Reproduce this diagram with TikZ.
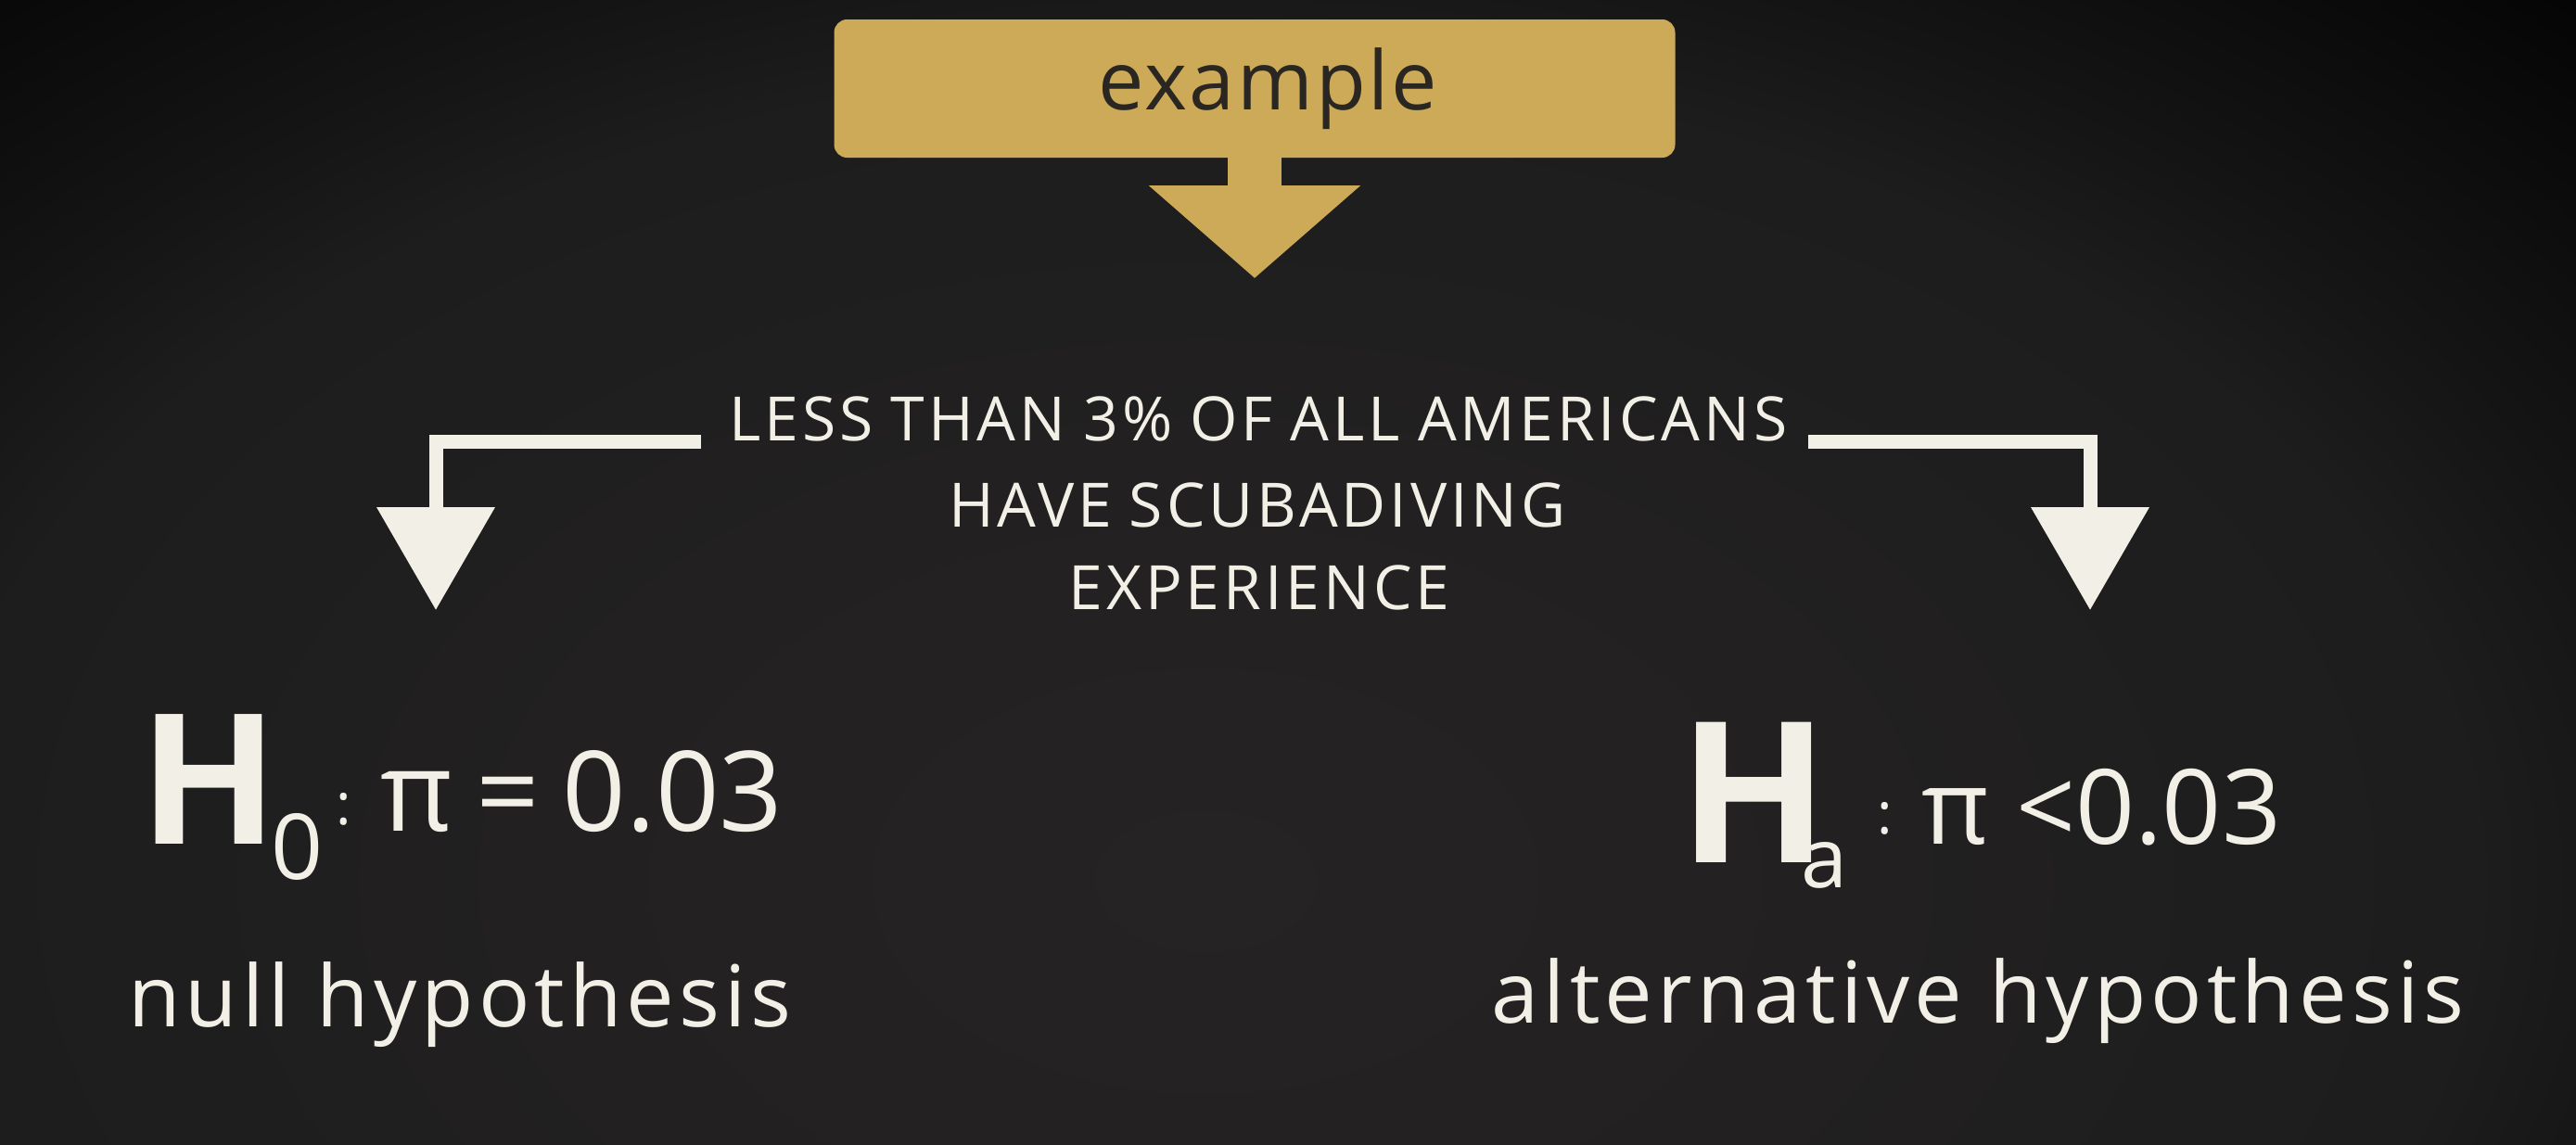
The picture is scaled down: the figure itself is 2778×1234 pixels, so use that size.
\documentclass[tikz,border=0pt]{standalone}
\usepackage{fontspec}
\setmainfont{Open Sans}
\usetikzlibrary{arrows.meta}
\definecolor{gold}{HTML}{CDAA58}
\definecolor{chalk}{HTML}{F2F0E6}
\definecolor{ink}{HTML}{2A2622}
\definecolor{bgA}{HTML}{252324}
\definecolor{bgB}{HTML}{222021}
\definecolor{bgC}{HTML}{1D1D1D}
\definecolor{bgD}{HTML}{151515}
\definecolor{bgE}{HTML}{0E0E0E}
\definecolor{bgF}{HTML}{050505}
\pgfdeclareradialshading{vignette}{\pgfpoint{0bp}{0bp}}{color(0bp)=(bgA); color(10bp)=(bgB); color(19bp)=(bgC); color(22bp)=(bgD); color(25bp)=(bgE); color(29bp)=(bgF); color(50bp)=(bgF)}
\newfontfamily\capsfont[LetterSpace=6,WordSpace=0.9]{Open Sans}
\newfontfamily\lblfont[LetterSpace=5.5]{Open Sans}
\newfontfamily\exfont[LetterSpace=3]{Open Sans}
\newfontfamily\eqfont[WordSpace=0.8]{Open Sans}
\tikzset{
  goldbox/.style={fill=gold, rounded corners=14pt, minimum width=907pt, minimum height=149pt, inner sep=0pt, text=ink, font=\exfont\fontsize{88}{100}\selectfont},
  goldarrow/.style={draw=gold, line width=58pt, -{Triangle[width=223pt,length=100pt]}},
  caps/.style={text=chalk, inner sep=0pt, anchor=base, font=\capsfont\fontsize{66}{80}\selectfont},
  wline/.style={draw=chalk, line width=15pt, -{Triangle[width=124pt,length=111pt]}},
  chalktext/.style={text=chalk, inner sep=0pt, anchor=base west},
  lbl/.style={text=chalk, inner sep=0pt, anchor=base, font=\lblfont\fontsize{92}{110}\selectfont}
}
\begin{document}
\begin{tikzpicture}[x=1pt,y=-1pt]
\useasboundingbox (0,0) rectangle (2778,1234);
\begin{scope}
  \clip (0,0) rectangle (2778,1234);
  \fill[bgF] (0,0) rectangle (2778,1234);
  \shade[shading=vignette] (-500,-200) rectangle (3100,2100);
\end{scope}

% top box and gold arrow
\node[goldbox] (ex) at (1353,95.5) {\hspace*{28pt}example};
\coordinate (gtip) at (1353,300);
\draw[goldarrow] (ex.south) -- (gtip);

% statement
\node[caps] (l1) at (1357,475) {LESS THAN 3\% OF ALL AMERICANS};
\node[caps] (l2) at (1356,568) {HAVE SCUBADIVING};
\node[caps] (l3) at (1358,657) {EXPERIENCE};

% white arrows
\coordinate (ltip) at (470,658);
\coordinate (rtip) at (2254,658);
\draw[wline] ([xshift=-30pt,yshift=-1pt]l1.base west) -| (ltip);
\draw[wline] ([xshift=22pt,yshift=-1pt]l1.base east) -| (rtip);

% null hypothesis
\node[chalktext] (h0) at (150,910) {\fontsize{196}{200}\selectfont\bfseries H\kern-8pt\fontsize{98}{110}\selectfont\mdseries\raisebox{-38pt}{0}};
\node[chalktext, font=\fontsize{62}{70}\selectfont] (h0c) at (362,889) {:};
\node[chalktext, font=\eqfont\fontsize{120}{140}\selectfont] (h0e) at (410,896) {π = 0.03};
\node[lbl] (n0) at (496,1107) {null hypothesis};

% alternative hypothesis
\node[chalktext] (ha) at (1810,930) {\fontsize{212}{220}\selectfont\bfseries H\kern-30pt\fontsize{90}{100}\selectfont\mdseries\raisebox{-27pt}{a}};
\node[chalktext, font=\fontsize{62}{70}\selectfont] (hac) at (2024,899) {:};
\node[chalktext, font=\fontsize{112}{130}\selectfont] (hae) at (2072,910) {π <0.03};
\node[lbl] (na) at (2133,1103) {alternative hypothesis};
\end{tikzpicture}
\end{document}
